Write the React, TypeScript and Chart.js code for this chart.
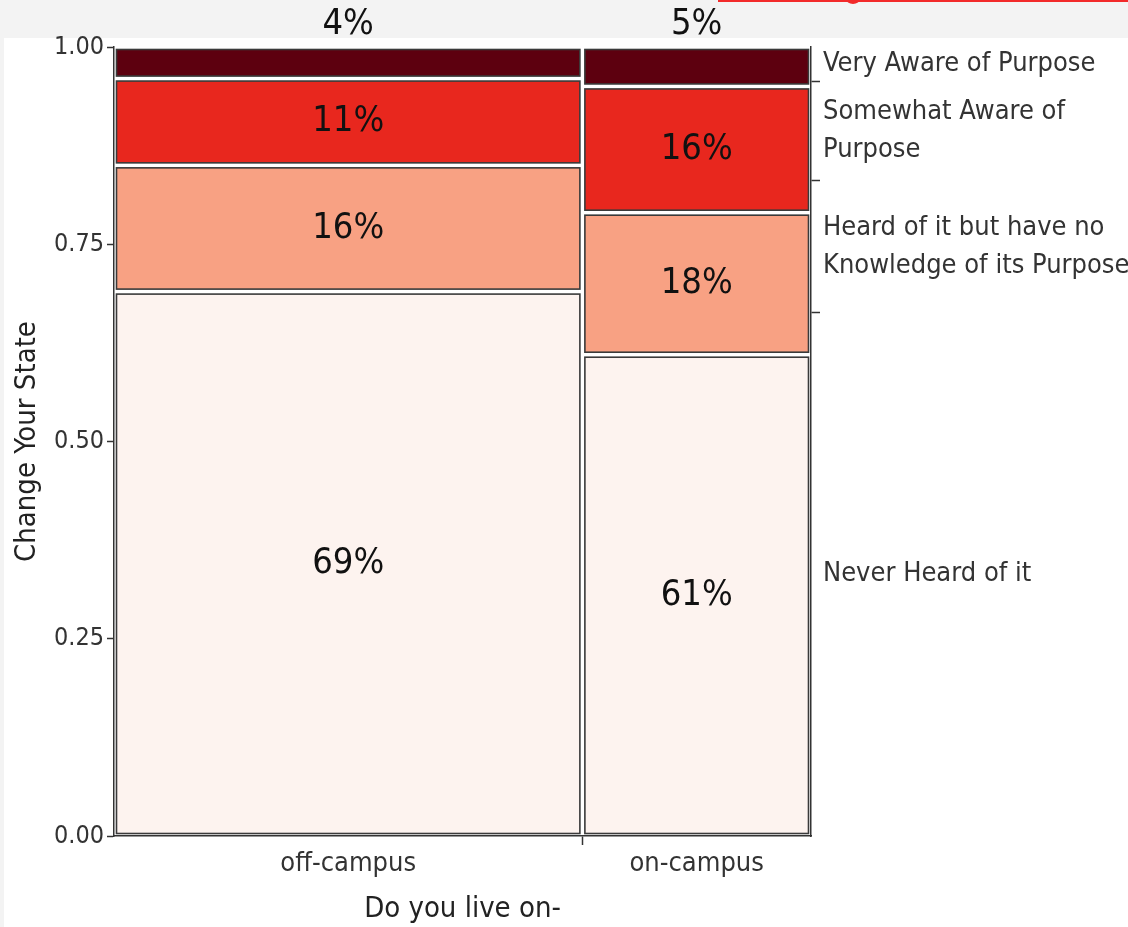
import React, { useEffect, useRef } from 'react';
import { Chart, registerables } from 'chart.js';

Chart.register(...registerables);

// ---- data ----
const columns = ['off-campus', 'on-campus'];
const columnShares = [67.2, 32.8];
const levelLabels: string[][] = [
  ['Never Heard of it'],
  ['Heard of it but have no', 'Knowledge of its Purpose'],
  ['Somewhat Aware of', 'Purpose'],
  ['Very Aware of Purpose'],
];
const neverHeard = [69, 61];
const heardNoKnowledge = [16, 18];
const somewhatAware = [11, 16];
const veryAware = [4, 5];
const yTickValues = [0, 0.25, 0.5, 0.75, 1];
const xTitle = 'Do you live on-';
const yTitle = 'Change Your State';

// ---- styles ----
const levelColors = ['#fdf3ef', '#f8a183', '#e8271e', '#5d000f'];
const FONT = "'Liberation Sans Narrow', 'DejaVu Sans Condensed', 'Arial Narrow', 'Liberation Sans', sans-serif";
const AXIS = '#333333';

const series = [neverHeard, heardNoKnowledge, somewhatAware, veryAware];
const totalShare = columnShares.reduce((a, b) => a + b, 0);
const colStart: number[] = [];
const colEnd: number[] = [];
{
  let acc = 0;
  columnShares.forEach((s) => {
    colStart.push(acc / totalShare);
    acc += s;
    colEnd.push(acc / totalShare);
  });
}
// cumulative bounds per column per level
const cellBounds = columns.map((_, c) => {
  const tot = series.reduce((a, s) => a + s[c], 0);
  let acc = 0;
  return series.map((s) => {
    const lo = acc / tot;
    acc += s[c];
    return [lo, acc / tot];
  });
});
// marginal boundaries (weighted by column share)
const marginalBounds = series.map((_, k) =>
  columns.reduce((a, __, c) => a + cellBounds[c][k][1] * (columnShares[c] / totalShare), 0)
);
const marginalLower = series.map((_, k) => (k === 0 ? 0 : marginalBounds[k - 1]));
const rightBoundaryTicks = marginalBounds.slice(0, series.length - 1);
const rightCenterTicks = series.map((_, k) => (marginalLower[k] + marginalBounds[k]) / 2);

const xTickValues = [
  (colStart[0] + colEnd[0]) / 2,
  colEnd[0],
  (colStart[1] + colEnd[1]) / 2,
];

const mosaicPlugin = {
  id: 'mosaic',
  beforeDatasetsDraw(chart: any) {
    const { ctx, scales, chartArea } = chart;
    const x = scales.x;
    const y = scales.y;
    const inset = 2.5;
    ctx.save();
    columns.forEach((_, c) => {
      const x0 = x.getPixelForValue(colStart[c]) + inset;
      const x1 = x.getPixelForValue(colEnd[c]) - inset;
      series.forEach((s, k) => {
        const [lo, hi] = cellBounds[c][k];
        const yTop = y.getPixelForValue(hi) + inset;
        const yBot = y.getPixelForValue(lo) - inset;
        ctx.fillStyle = levelColors[k];
        ctx.fillRect(x0, yTop, x1 - x0, yBot - yTop);
        ctx.strokeStyle = '#3a3a3a';
        ctx.lineWidth = 1.6;
        ctx.strokeRect(x0, yTop, x1 - x0, yBot - yTop);
        // labels
        ctx.fillStyle = '#111';
        ctx.font = `36px ${FONT}`;
        ctx.textAlign = 'center';
        ctx.textBaseline = 'middle';
        const label = `${s[c]}%`;
        const cx = (x0 + x1) / 2;
        if (yBot - yTop < 45) {
          ctx.fillText(label, cx, chartArea.top - 22);
        } else {
          ctx.fillText(label, cx, (yTop + yBot) / 2);
        }
      });
    });
    ctx.restore();
  },
};

export default function App() {
  const ref = useRef<HTMLCanvasElement | null>(null);
  useEffect(() => {
    if (!ref.current) return;
    const chart = new Chart(ref.current, {
      type: 'scatter',
      data: { datasets: [] },
      options: {
        animation: false,
        responsive: false,
        layout: { padding: { top: 47, left: 0, right: 0, bottom: 0 } },
        plugins: { legend: { display: false }, tooltip: { enabled: false } },
        scales: {
          x: {
            type: 'linear',
            min: 0,
            max: 1,
            afterBuildTicks: (scale: any) => {
              scale.ticks = xTickValues.map((v) => ({ value: v }));
            },
            afterFit: (scale: any) => {
              scale.height = 91;
            },
            ticks: {
              autoSkip: false,
              maxRotation: 0,
              padding: 3,
              color: AXIS,
              font: { family: FONT, size: 27 },
              callback: (_v: any, i: number) => (i === 0 ? columns[0] : i === 2 ? columns[1] : ''),
            },
            grid: {
              drawOnChartArea: false,
              tickLength: 9,
              tickWidth: 1.5,
              tickColor: (ctx: any) => (ctx.index === 1 ? AXIS : 'rgba(0,0,0,0)'),
            },
            border: { display: true, color: AXIS, width: 1.5 },
            title: {
              display: true,
              text: xTitle,
              color: '#222',
              font: { family: FONT, size: 29 },
              padding: { top: 0, bottom: 0 },
            },
          },
          y: {
            type: 'linear',
            position: 'left',
            min: 0,
            max: 1,
            afterBuildTicks: (scale: any) => {
              scale.ticks = yTickValues.map((v) => ({ value: v }));
            },
            afterFit: (scale: any) => {
              scale.width = 114;
            },
            ticks: {
              autoSkip: false,
              padding: 3,
              color: AXIS,
              font: { family: FONT, size: 25 },
              callback: (v: any) => Number(v).toFixed(2),
            },
            grid: {
              drawOnChartArea: false,
              tickLength: 7,
              tickWidth: 1.5,
              tickColor: AXIS,
            },
            border: { display: true, color: AXIS, width: 1.5 },
            title: {
              display: true,
              text: yTitle,
              color: '#222',
              font: { family: FONT, size: 29 },
              padding: { top: 10, bottom: 0 },
            },
          },
          y2: {
            type: 'linear',
            position: 'right',
            min: 0,
            max: 1,
            afterBuildTicks: (scale: any) => {
              scale.ticks = [...rightBoundaryTicks, ...rightCenterTicks].map((v) => ({ value: v }));
            },
            afterFit: (scale: any) => {
              scale.width = 317;
            },
            ticks: {
              autoSkip: false,
              padding: 3,
              color: AXIS,
              font: { family: FONT, size: 27, lineHeight: 1.4 },
              callback: (_v: any, i: number) =>
                i < rightBoundaryTicks.length ? '' : levelLabels[i - rightBoundaryTicks.length],
            },
            grid: {
              drawOnChartArea: false,
              tickLength: 9,
              tickWidth: 1.5,
              tickColor: (ctx: any) => (ctx.index < rightBoundaryTicks.length ? AXIS : 'rgba(0,0,0,0)'),
            },
            border: { display: true, color: AXIS, width: 1.5 },
          },
        },
      },
      plugins: [mosaicPlugin],
    } as any);
    return () => chart.destroy();
  }, []);

  return (
    <div
      style={{
        position: 'absolute',
        left: 0,
        top: 0,
        width: 1128,
        height: 927,
        background: '#f3f3f3',
        overflow: 'hidden',
      }}
    >
      <div style={{ position: 'absolute', left: 4, top: 38, right: 0, bottom: 0, background: '#ffffff' }} />
      <div style={{ position: 'absolute', left: 718, top: 0, width: 410, height: 2, background: '#f22a2a' }} />
      <div
        style={{
          position: 'absolute',
          left: 846,
          top: -6,
          width: 14,
          height: 10,
          borderRadius: '50%',
          background: '#f22a2a',
        }}
      />
      <canvas ref={ref} width={1128} height={927} style={{ position: 'absolute', left: 0, top: 0 }} />
    </div>
  );
}
